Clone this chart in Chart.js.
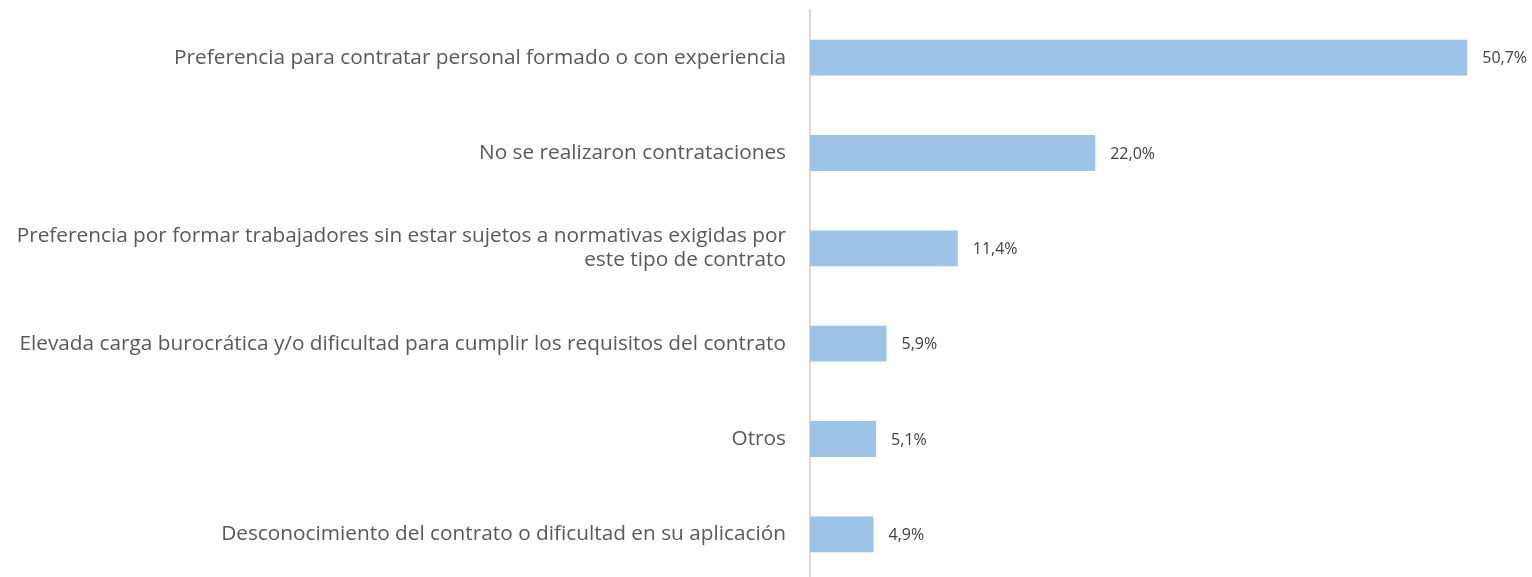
<!DOCTYPE html>
<html>
<head>
<meta charset="utf-8">
<script src="https://cdn.jsdelivr.net/npm/chart.js@4.4.0/dist/chart.umd.min.js"></script>
<style>
  html, body { margin: 0; padding: 0; background: #fff; overflow: hidden; }
  #wrap { width: 1532px; height: 596px; margin-top: -2px; }
</style>
</head>
<body>
<div id="wrap"><canvas id="barChart"></canvas></div>
<script>
const categories = [
    'Preferencia para contratar personal formado o con experiencia',
    'No se realizaron contrataciones',
    ['Preferencia por formar trabajadores sin estar sujetos a normativas exigidas por', 'este tipo de contrato'],
    'Elevada carga burocrática y/o dificultad para cumplir los requisitos del contrato',
    'Otros',
    'Desconocimiento del contrato o dificultad en su aplicación'
];
const values = [50.7, 22.0, 11.4, 5.9, 5.1, 4.9];

const fmt = v => v.toFixed(1).replace('.', ',') + '%';

// etiquetas de valor a la derecha de cada barra
const valueLabels = {
    id: 'valueLabels',
    afterDatasetsDraw(chart) {
        const ctx = chart.ctx;
        const meta = chart.getDatasetMeta(0);
        ctx.save();
        ctx.font = '16px "Open Sans"';
        ctx.fillStyle = '#404040';
        ctx.textAlign = 'left';
        ctx.textBaseline = 'middle';
        meta.data.forEach((bar, i) => {
            ctx.fillText(fmt(values[i]), bar.x + 15, bar.y + 1);
        });
        ctx.restore();
    }
};

const barChart = new Chart(document.getElementById('barChart'), {
    type: 'bar',
    data: {
        labels: categories,
        datasets: [{
            data: values,
            backgroundColor: '#9DC3E6',
            categoryPercentage: 1,
            barPercentage: 0.376
        }]
    },
    options: {
        indexAxis: 'y',
        responsive: true,
        maintainAspectRatio: false,
        animation: false,
        layout: { padding: { top: 9, right: 9, bottom: 0, left: 0 } },
        plugins: { legend: { display: false }, tooltip: { enabled: false } },
        scales: {
            x: { display: false, min: 0, max: 55 },
            y: {
                afterFit: s => { s.width = 810; },
                grid: { display: false, drawTicks: true, tickLength: 24 },
                border: { display: true, color: '#D9D9D9', width: 2 },
                ticks: {
                    color: '#595959',
                    font: { family: 'Open Sans', size: 20.8, lineHeight: 1.15 },
                    padding: 0
                }
            }
        }
    },
    plugins: [valueLabels]
});
</script>
</body>
</html>
